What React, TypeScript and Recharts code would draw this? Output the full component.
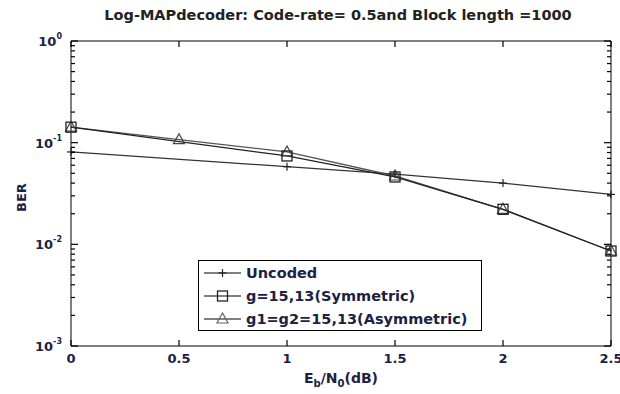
import React from 'react';
import { LineChart, Line, XAxis, YAxis } from 'recharts';

const ebn0 = [0, 0.5, 1, 1.5, 2, 2.5];
const uncoded = [0.081, null, 0.058, 0.049, 0.04, 0.031];
const symmetric = [0.142, null, 0.074, 0.046, 0.0221, 0.0086];
const asymmetric = [0.142, 0.107, 0.081, 0.047, 0.0221, 0.0086];

const xTicks = [0, 0.5, 1, 1.5, 2, 2.5];
const decades = [0.001, 0.01, 0.1, 1];
const decadeExp = ['-3', '-2', '-1', '0'];

const title = 'Log-MAPdecoder: Code-rate= 0.5and Block length =1000';
const legendNames = ['Uncoded', 'g=15,13(Symmetric)', 'g1=g2=15,13(Asymmetric)'];

const data = ebn0.map((x, i) => ({
  x,
  uncoded: uncoded[i],
  symmetric: symmetric[i],
  asymmetric: asymmetric[i],
}));

// log axis ticks: decades plus 2..9 minors
const yTicks: number[] = [];
decades.forEach((d, i) => {
  yTicks.push(d);
  if (i < decades.length - 1) for (let k = 2; k <= 9; k++) yTicks.push(+(d * k).toPrecision(3));
});

const FONT = '"DejaVu Sans", Verdana, sans-serif';
const TXT = '#1c2242';
const LOGDOMAIN: [number, number] = [0.001, 1];

const decadeIndex = (v: number) => decades.findIndex((d) => Math.abs(d - v) < 1e-9);

// ticks point inward like a matlab box
const LeftTick = (props: any) => {
  const { x, y, payload } = props;
  const idx = decadeIndex(payload.value);
  const major = idx >= 0;
  return (
    <g>
      <line x1={x} x2={x + (major ? 7 : 4)} y1={y} y2={y} stroke="#000" strokeWidth={1.2} />
      {major && (
        <text x={x - 9} y={y + 5} textAnchor="end" fontFamily={FONT} fontWeight="bold" fontSize={13} fill={TXT}>
          10
          <tspan dy={-7} fontSize={8}>{decadeExp[idx]}</tspan>
        </text>
      )}
    </g>
  );
};

const RightTick = (props: any) => {
  const { x, y, payload } = props;
  const major = decadeIndex(payload.value) >= 0;
  return <line x1={x} x2={x - (major ? 7 : 4)} y1={y} y2={y} stroke="#000" strokeWidth={1.2} />;
};

const BottomTick = (props: any) => {
  const { x, y, payload } = props;
  return (
    <g>
      <line x1={x} x2={x} y1={y} y2={y - 6} stroke="#000" strokeWidth={1.2} />
      <text x={x} y={y + 17} textAnchor="middle" fontFamily={FONT} fontWeight="bold" fontSize={13} fill={TXT}>
        {payload.value}
      </text>
    </g>
  );
};

const TopTick = (props: any) => {
  const { x, y } = props;
  return <line x1={x} x2={x} y1={y} y2={y + 6} stroke="#000" strokeWidth={1.2} />;
};

const Plus = ({ cx, cy, color }: any) => (
  <g stroke={color} strokeWidth={1.2}>
    <line x1={cx - 4} x2={cx + 4} y1={cy} y2={cy} />
    <line x1={cx} x2={cx} y1={cy - 4} y2={cy + 4} />
  </g>
);
const Square = ({ cx, cy, color }: any) => (
  <rect x={cx - 5} y={cy - 5} width={10} height={10} fill="none" stroke={color} strokeWidth={1.3} />
);
const Tri = ({ cx, cy, color }: any) => (
  <polygon points={`${cx},${cy - 6} ${cx - 5.5},${cy + 4} ${cx + 5.5},${cy + 4}`} fill="none" stroke={color} strokeWidth={1.2} />
);

const dotFn = (Shape: any, color: string) => (p: any) => {
  if (p.cx == null || p.cy == null || p.value == null) return <g key={p.index} />;
  return <Shape key={p.index} cx={p.cx} cy={p.cy} color={color} />;
};

const LegendRow = ({ Shape, color, label }: any) => (
  <div style={{ display: 'flex', alignItems: 'center', height: 23 }}>
    <svg width={40} height={14} style={{ flex: 'none' }}>
      <line x1={1} x2={38} y1={7} y2={7} stroke="#000" strokeWidth={1.2} />
      <Shape cx={19.5} cy={7} color={color} />
    </svg>
    <span style={{ marginLeft: 3 }}>{label}</span>
  </div>
);

export default function App() {
  return (
    <div style={{ position: 'absolute', left: 0, top: 0, width: 620, height: 394, background: '#fff' }}>
      <LineChart width={620} height={394} data={data} margin={{ top: 40, right: 8, bottom: 18, left: 0 }}>
        <XAxis
          xAxisId="b"
          dataKey="x"
          type="number"
          domain={[0, 2.5]}
          ticks={xTicks}
          interval={0}
          height={30}
          tickSize={0}
          tickMargin={0}
          tick={<BottomTick />}
          stroke="#000"
        />
        <XAxis
          xAxisId="t"
          orientation="top"
          dataKey="x"
          type="number"
          domain={[0, 2.5]}
          ticks={xTicks}
          interval={0}
          height={1}
          tickSize={0}
          tickMargin={0}
          tick={<TopTick />}
          stroke="#000"
        />
        <YAxis
          yAxisId="l"
          scale="log"
          type="number"
          domain={LOGDOMAIN}
          allowDataOverflow
          ticks={yTicks}
          interval={0}
          width={71}
          tickSize={0}
          tickMargin={0}
          tick={<LeftTick />}
          stroke="#000"
        />
        <YAxis
          yAxisId="r"
          orientation="right"
          scale="log"
          type="number"
          domain={LOGDOMAIN}
          allowDataOverflow
          ticks={yTicks}
          interval={0}
          width={1}
          tickSize={0}
          tickMargin={0}
          tick={<RightTick />}
          stroke="#000"
        />
        <Line
          xAxisId="b"
          yAxisId="l"
          dataKey="uncoded"
          stroke="#333"
          strokeWidth={1.2}
          connectNulls
          dot={dotFn(Plus, '#222')}
          isAnimationActive={false}
        />
        <Line
          xAxisId="b"
          yAxisId="l"
          dataKey="asymmetric"
          stroke="#555"
          strokeWidth={1.3}
          connectNulls
          dot={dotFn(Tri, '#444')}
          isAnimationActive={false}
        />
        <Line
          xAxisId="b"
          yAxisId="l"
          dataKey="symmetric"
          stroke="#222"
          strokeWidth={1.3}
          connectNulls
          dot={dotFn(Square, '#222')}
          isAnimationActive={false}
        />
      </LineChart>
      <div
        style={{
          position: 'absolute', left: 0, width: 676, top: 7, textAlign: 'center',
          fontFamily: FONT, fontWeight: 'bold', fontSize: 14.5, color: '#222', whiteSpace: 'nowrap',
        }}
      >
        {title}
      </div>
      <div
        style={{
          position: 'absolute', left: 14, top: 182, transform: 'rotate(-90deg)', transformOrigin: 'left top',
          fontFamily: FONT, fontWeight: 'bold', fontSize: 13, color: TXT,
        }}
      >
        <span style={{ position: 'absolute', top: 0, left: -30 }}>BER</span>
      </div>
      <div
        style={{
          position: 'absolute', left: 0, width: 682, top: 370, textAlign: 'center',
          fontFamily: FONT, fontWeight: 'bold', fontSize: 14, color: TXT,
        }}
      >
        E<sub style={{ fontSize: 10 }}>b</sub>/N<sub style={{ fontSize: 10 }}>0</sub>(dB)
      </div>
      <div
        style={{
          position: 'absolute', left: 198, top: 260, width: 284, height: 71, border: '1px solid #000',
          background: '#fff', fontFamily: FONT, fontWeight: 'bold', fontSize: 14.5, color: TXT, paddingLeft: 4,
          boxSizing: 'border-box', paddingTop: 0, whiteSpace: 'nowrap',
        }}
      >
        <LegendRow Shape={Plus} color="#222" label={legendNames[0]} />
        <LegendRow Shape={Square} color="#222" label={legendNames[1]} />
        <LegendRow Shape={Tri} color="#666" label={legendNames[2]} />
      </div>
    </div>
  );
}
